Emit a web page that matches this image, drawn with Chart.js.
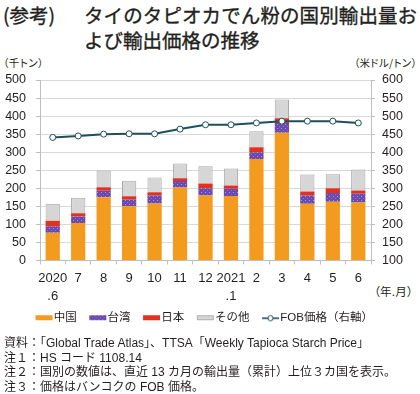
<!DOCTYPE html>
<html><head><meta charset="utf-8">
<script src="https://cdn.jsdelivr.net/npm/chart.js@4.4.0/dist/chart.umd.min.js"></script>
<style>
html,body{margin:0;padding:0;background:#fff;}
#wrap{position:relative;width:420px;height:394px;overflow:hidden;font-family:'Liberation Sans','Noto Sans CJK JP',sans-serif;color:#231f20;}
.t{position:absolute;white-space:nowrap;}
.title{font-family:'Noto Sans CJK JP',sans-serif;font-size:19.5px;font-weight:400;line-height:24px;-webkit-text-stroke:0.35px #231f20;}
.unit{font-size:10.5px;font-family:'Noto Sans CJK JP',sans-serif;font-feature-settings:"palt";}
.note{font-size:12px;left:4px;}
#cv{position:absolute;left:0;top:55px;}
</style></head>
<body><div id="wrap">
<div class="t title" style="left:3px;top:3px;">(参考)</div>
<div class="t title" style="left:84px;top:3px;letter-spacing:0.1px;">タイのタピオカでん粉の国別輸出量お</div>
<div class="t title" style="left:84px;top:28px;">よび輸出価格の推移</div>
<div class="t unit" style="left:3px;top:55px;letter-spacing:0.5px;">（千トン）</div>
<div class="t unit" style="left:354px;top:55px;letter-spacing:0.3px;">（米ドル/トン）</div>
<div class="t unit" style="left:374px;top:283px;font-size:11.5px;letter-spacing:0.3px;">（年.月）</div>
<canvas id="cv" width="420" height="279"></canvas>
<div class="t note" style="top:333px;">資料：「Global Trade Atlas」、TTSA「Weekly Tapioca Starch Price」</div>
<div class="t note" style="top:348px;">注１：HS コード 1108.14</div>
<div class="t note" style="top:362px;">注２：国別の数値は、直近 13 カ月の輸出量（累計）上位３カ国を表示。</div>
<div class="t note" style="top:377px;">注３：価格はバンコクの FOB 価格。</div>
</div>
<script>
const categories = [['2020','.6'],'7','8','9','10','11','12',['2021','.1'],'2','3','4','5','6'];
const china  = [77,104,175,150,158,202,180,179,281,354,157,163,161];
const taiwan = [18,18,18,19,22,18,20,20,19,27,23,24,24];
const japan  = [15,9,10,9,9,8,13,9,14,13,11,13,9];
const other  = [47,43,46,43,41,41,48,47,44,52,47,39,58];
const fobPrice = [441,445,450,451,451,464,476,476,481,486,486,486,481];
const leftTicks = [0,50,100,150,200,250,300,350,400,450,500];
const rightTicks = [100,150,200,250,300,350,400,450,500,550,600];

const C_CHINA='#F29B1E', C_TW='#6A4AAE', C_JP='#E0321F', C_OTHER='#D6D6D6', C_LINE='#1E4F5B';

function twPattern(){
  const c=document.createElement('canvas');c.width=4;c.height=4;
  const x=c.getContext('2d');x.fillStyle=C_TW;x.fillRect(0,0,4,4);
  x.fillStyle='#a995d6';x.fillRect(1,1,1,1);x.fillStyle='#8a72c4';x.fillRect(3,3,1,1);
  return x.createPattern(c,'repeat');
}
const twFill=twPattern();

function swatch(fill,stroke){
  const c=document.createElement('canvas');c.width=34;c.height=8;
  const x=c.getContext('2d');x.fillStyle=fill;x.fillRect(12,1,17,5);
  if(stroke){x.strokeStyle=stroke;x.lineWidth=1;x.strokeRect(12.5,1.5,16,4);}
  return c;
}
function lineSwatch(){
  const c=document.createElement('canvas');c.width=34;c.height=8;
  const x=c.getContext('2d');x.strokeStyle=C_LINE;x.lineWidth=1.6;
  x.beginPath();x.moveTo(12,4);x.lineTo(29,4);x.stroke();
  x.fillStyle='#fff';x.lineWidth=1;x.beginPath();x.arc(20.5,4,2.6,0,Math.PI*2);x.fill();x.stroke();
  return c;
}
const legendImgs=[swatch(C_CHINA),swatch(twFill),swatch(C_JP),swatch(C_OTHER,'#b0b0b0'),lineSwatch()];

Chart.defaults.font.family="'Liberation Sans','Noto Sans CJK JP',sans-serif";
Chart.defaults.color='#231f20';
Chart.defaults.animation=false;

new Chart(document.getElementById('cv'),{
  data:{
    labels:categories,
    datasets:[
      {type:'line',label:'FOB価格（右軸）',data:fobPrice,yAxisID:'y1',borderColor:C_LINE,borderWidth:2,
       pointRadius:3,pointBackgroundColor:'#fff',pointBorderColor:C_LINE,pointBorderWidth:1,tension:0,order:0},
      {type:'bar',label:'中国',data:china,backgroundColor:C_CHINA,stack:'s',yAxisID:'y',order:1},
      {type:'bar',label:'台湾',data:taiwan,backgroundColor:twFill,stack:'s',yAxisID:'y',order:1},
      {type:'bar',label:'日本',data:japan,backgroundColor:C_JP,stack:'s',yAxisID:'y',order:1},
      {type:'bar',label:'その他',data:other,backgroundColor:C_OTHER,borderColor:'#a8a8a8',borderWidth:{top:1,left:1,right:1,bottom:0},stack:'s',yAxisID:'y',order:1}
    ]
  },
  options:{
    responsive:false,
    layout:{padding:{top:25,left:0,right:14,bottom:0}},
    datasets:{bar:{barPercentage:0.56,categoryPercentage:1}},
    plugins:{
      tooltip:{enabled:false},
      legend:{position:'bottom',
        labels:{usePointStyle:true,pointStyleWidth:15,padding:10,font:{size:11.5},color:'#231f20',
          generateLabels:(chart)=>{
            const names=['中国','台湾','日本','その他','FOB価格（右軸）'];
            return names.map((n,i)=>({text:n,pointStyle:legendImgs[i],fillStyle:'#fff',strokeStyle:'#fff',lineWidth:0,hidden:false,datasetIndex:i===4?0:i+1,fontColor:'#231f20'}));
          }}}
    },
    scales:{
      x:{stacked:true,offset:true,
        grid:{display:true,drawOnChartArea:false,drawTicks:true,tickLength:4,offset:true,color:'#bfbfbf'},
        border:{color:'#bfbfbf'},
        ticks:{font:{size:13,lineHeight:1.4},padding:5,maxRotation:0,autoSkip:false},
        afterFit:(s)=>{s.height=42;}},
      y:{position:'left',stacked:true,min:0,max:500,
        afterBuildTicks:(s)=>{s.ticks=leftTicks.map(v=>({value:v}));},
        grid:{color:'#d9d9d9',tickLength:4,tickColor:'#bfbfbf'},
        border:{color:'#bfbfbf'},
        ticks:{font:{size:12.5},padding:10,autoSkip:false},
        afterFit:(s)=>{s.width=40;}},
      y1:{position:'right',min:100,max:600,
        afterBuildTicks:(s)=>{s.ticks=rightTicks.map(v=>({value:v}));},
        grid:{drawOnChartArea:false,tickLength:4,color:'#bfbfbf'},
        border:{color:'#bfbfbf'},
        ticks:{font:{size:12.5},padding:7,autoSkip:false},
        afterFit:(s)=>{s.width=35;}}
    }
  }
});
</script>
</body></html>
